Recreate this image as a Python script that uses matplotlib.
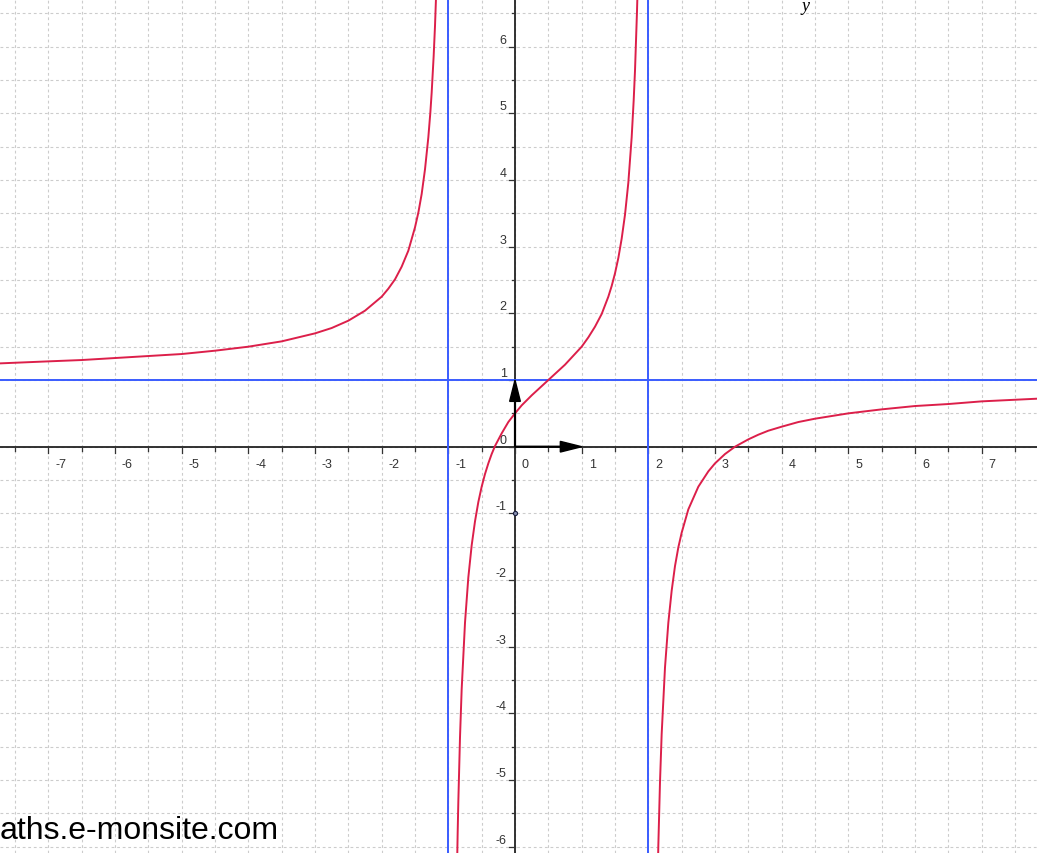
import numpy as np
import matplotlib.pyplot as plt

# Points, one list per branch
left_x = [-7.72, -7, -6.5, -6, -5.5, -5, -4.5, -4, -3.5, -3, -2.75, -2.5, -2.25, -2, -1.9, -1.8, -1.7, -1.6, -1.5, -1.45,
          -1.4, -1.35, -1.3, -1.27, -1.25, -1.22, -1.2, -1.18]
left_y = [1.25, 1.28, 1.30, 1.33, 1.36, 1.39, 1.44, 1.5, 1.58, 1.7, 1.78, 1.89, 2.04, 2.25, 2.37, 2.51, 2.70, 2.94, 3.29, 3.51,
          3.79, 4.16, 4.64, 5.01, 5.31, 5.86, 6.31, 6.87]

mid_x = [-0.87, -0.86, -0.85, -0.825, -0.8, -0.75, -0.7, -0.65, -0.6, -0.55, -0.5, -0.45, -0.4, -0.35, -0.3, -0.2, -0.1, 0,
         0.1, 0.25, 0.5, 0.75, 1, 1.1, 1.2, 1.3, 1.4, 1.45, 1.5, 1.55, 1.6, 1.65, 1.7, 1.75, 1.78, 1.8, 1.83, 1.84]
mid_y = [-6.34, -5.79, -5.32, -4.36, -3.64, -2.64, -1.96, -1.48, -1.12, -0.83, -0.6, -0.41, -0.25, -0.11, 0.01, 0.2, 0.37, 0.5,
         0.62, 0.77, 1, 1.23, 1.5, 1.64, 1.8, 1.99, 2.25, 2.41, 2.6, 2.83, 3.12, 3.48, 3.96, 4.64, 5.19, 5.64, 6.53, 6.9]

right_x = [2.13, 2.15, 2.175, 2.2, 2.25, 2.3, 2.35, 2.4, 2.45, 2.5, 2.6, 2.75, 2.9, 3, 3.15, 3.3, 3.5, 3.65, 3.8, 4, 4.25,
           4.5, 5, 5.5, 6, 6.5, 7, 7.83]
right_y = [-7.01, -5.98, -5.03, -4.31, -3.31, -2.64, -2.16, -1.79, -1.51, -1.29, -0.94, -0.6, -0.37, -0.25, -0.11, 0.0, 0.11,
           0.18, 0.24, 0.3, 0.37, 0.42, 0.5, 0.56, 0.61, 0.64, 0.68, 0.72]

# asymptotes
vert_asym = [-1, 2]
horiz_asym = [1]

# point marked on the y axis
pt_x = [0]
pt_y = [-1]

watermark = "aths.e-monsite.com"

xmin, xmax = -7.725, 7.83
ymin, ymax = -6.094, 6.715

plt.rcParams['font.family'] = ['Liberation Sans', 'DejaVu Sans']

fig = plt.figure(figsize=(10.37, 8.54), dpi=100)
ax = fig.add_axes([0, 0, 1, 1])
ax.set_xlim(xmin, xmax)
ax.set_ylim(ymin, ymax)
ax.axis('off')

# dashed grid every half unit
for gx in np.arange(-7.5, 8, 0.5):
    ax.axvline(gx, color='#cccccc', lw=0.8, ls=(0, (2.5, 2.5)), zorder=0)
for gy in np.arange(-6, 7, 0.5):
    ax.axhline(gy, color='#cccccc', lw=0.8, ls=(0, (2.5, 2.5)), zorder=0)

# axes
ax.axhline(0, color='#222222', lw=1.3, zorder=2)
ax.axvline(0, color='#222222', lw=1.3, zorder=2)

# ticks + labels
for k in np.arange(-7.5, 8, 0.5):
    major = float(k).is_integer()
    ax.plot([k, k], [0, -0.09 if major else -0.06], color='#333333', lw=0.9, zorder=2)
    if major:
        ax.annotate(str(int(k)), (k, 0), xytext=(5, -8), textcoords='offset points',
                    ha='left', va='top', fontsize=9, color='#333333')
for k in np.arange(-6, 7, 0.5):
    major = float(k).is_integer()
    ax.plot([0, -0.09 if major else -0.05], [k, k], color='#333333', lw=0.9, zorder=2)
    if major:
        ax.annotate(str(int(k)), (0, k), xytext=(-6, 3), textcoords='offset points',
                    ha='right', va='baseline', fontsize=9, color='#333333')

# asymptotes
for v in vert_asym:
    ax.axvline(v, color='#3a5cff', lw=1.4, zorder=3)
for h in horiz_asym:
    ax.axhline(h, color='#3a5cff', lw=1.4, zorder=3)

# curve
for bx, by in [(left_x, left_y), (mid_x, mid_y), (right_x, right_y)]:
    ax.plot(bx, by, color='#dc1f4a', lw=1.4, zorder=4)

# unit vectors i and j
ax.arrow(0, 0, 1, 0, width=0.012, head_width=0.16, head_length=0.32,
         length_includes_head=True, fc='black', ec='black', zorder=5)
ax.arrow(0, 0, 0, 1, width=0.012, head_width=0.16, head_length=0.32,
         length_includes_head=True, fc='black', ec='black', zorder=5)

ax.plot(pt_x, pt_y, 'o', ms=3, mfc='#8890b0', mec='#1a2040', mew=0.8, zorder=6)

# watermark and the small "y" at the top
fig.text(0.0, 14.7 / 854, watermark, ha='left', va='baseline', fontsize=23, color='black')
fig.text(806 / 1037, 1 - 11 / 854, 'y', ha='center', va='baseline', fontsize=13,
         family='Liberation Serif', style='italic', color='black')

plt.savefig('out.png', dpi=100)
